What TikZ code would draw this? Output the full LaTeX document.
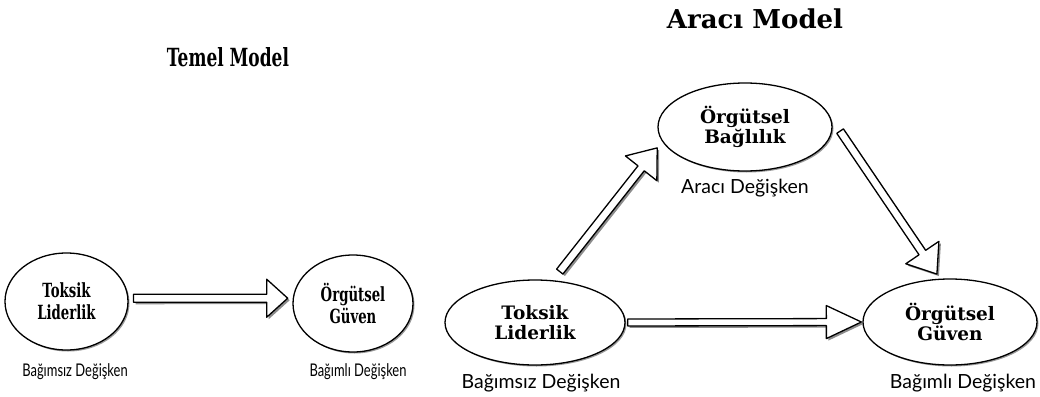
\documentclass[tikz,border=0pt]{standalone}
\usepackage{fontspec}
\usetikzlibrary{shapes.geometric,calc,shadows}
\newfontfamily\nodeserif{DejaVu Serif}
\newfontfamily\condserif{DejaVu Serif}[FakeStretch=0.68]
\newfontfamily\condtitle{DejaVu Serif}[FakeStretch=0.68]
\newfontfamily\labsans{Lato}
\newfontfamily\condsans{Lato}[FakeStretch=0.74]
\tikzset{
  ell/.style={ellipse, draw=black, line width=1.3pt, fill=white, inner sep=0pt, align=center,
    drop shadow={shadow xshift=1.5pt, shadow yshift=-1.5pt, opacity=.4, fill=black}},
  bigtxt/.style={font=\nodeserif\bfseries\fontsize{18.5}{19.5}\selectfont},
  condtxt/.style={font=\condserif\bfseries\fontsize{19.5}{22}\selectfont},
  rlab/.style={font=\labsans\fontsize{19.5}{22}\selectfont, inner sep=0pt},
  llab/.style={font=\condsans\fontsize{17.5}{20}\selectfont, inner sep=0pt},
  arrowbody/.style={draw=black, line width=1.3pt, fill=white, line join=round,
    drop shadow={shadow xshift=2pt, shadow yshift=-2pt, opacity=.45, fill=black}}
}
% #1 start anchor, #2 end anchor, #3 start gap, #4 end gap, #5 shaft half width, #6 head half width, #7 head length
\newcommand\fatarrow[7]{%
  \coordinate (fa-s) at ($(#1)!#3!(#2)$);
  \coordinate (fa-t) at ($(#2)!#4!(#1)$);
  \coordinate (fa-b) at ($(fa-t)!#7!(fa-s)$);
  \draw[arrowbody] ($(fa-s)!#5!90:(fa-t)$) -- ($(fa-b)!#5!-90:(fa-s)$) -- ($(fa-b)!#6!-90:(fa-s)$)
    -- (fa-t) -- ($(fa-b)!#6!90:(fa-s)$) -- ($(fa-b)!#5!90:(fa-s)$) -- ($(fa-s)!#5!-90:(fa-t)$) -- cycle;
}
\begin{document}
\begin{tikzpicture}[x=1pt,y=-1pt]
\useasboundingbox[fill=white] (0,0) rectangle (1040,396);
% ---------- Temel Model ----------
\node[font=\condtitle\bfseries\fontsize{25}{27}\selectfont] (ttitle) at (228,57) {Temel Model};
\node[ell, condtxt, minimum width=123pt, minimum height=97pt] (tl1) at (66.5,301.5) {Toksik\\Liderlik};
\node[ell, condtxt, minimum width=120pt, minimum height=97pt] (og1) at (353,303.5) {Örgütsel\\Güven};
\node[llab] (lab1) at (75,372) {Bağımsız Değişken};
\node[llab] (lab2) at (358,372) {Bağımlı Değişken};
\fatarrow{tl1.3}{og1.175}{5pt}{5pt}{4pt}{19pt}{21pt}
% ---------- Aracı Model ----------
\node[font=\nodeserif\bfseries\fontsize{26}{28}\selectfont] (atitle) at (755,19) {Aracı Model};
\node[ell, bigtxt, minimum width=174pt, minimum height=88pt] (bag) at (745,127) {Örgütsel\\Bağlılık};
\node[ell, bigtxt, minimum width=180pt, minimum height=85pt] (tl2) at (535,322.5) {Toksik\\Liderlik};
\node[ell, bigtxt, minimum width=174pt, minimum height=86pt] (og2) at (950,322) {Örgütsel\\Güven};
\node[rlab] (lab3) at (745,188) {Aracı Değişken};
\node[rlab] (lab4) at (541,383) {Bağımsız Değişken};
\node[rlab] (lab5) at (963,383) {Bağımlı Değişken};
\fatarrow{tl2.67}{bag.190}{11pt}{8pt}{4pt}{20pt}{26pt}
\fatarrow{bag.7.6}{og2.103}{17.6pt}{5.5pt}{4pt}{20pt}{26pt}
\fatarrow{tl2.east}{og2.west}{2pt}{1pt}{3.5pt}{16.5pt}{35pt}
\end{tikzpicture}
\end{document}
